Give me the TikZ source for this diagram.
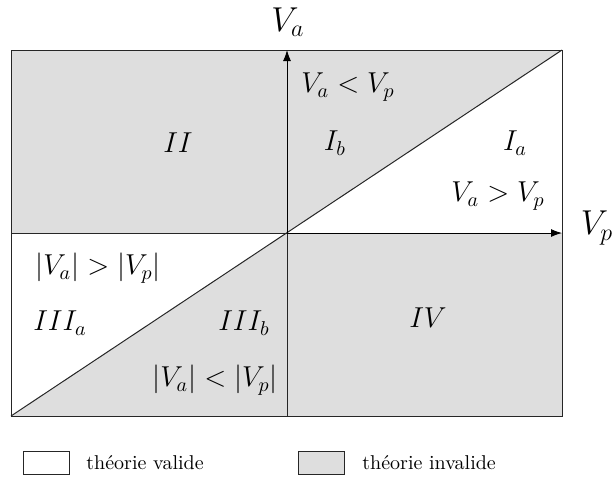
\documentclass[tikz,border=0pt]{standalone}
\usetikzlibrary{arrows.meta}
\definecolor{invfill}{RGB}{222,222,222}
\begin{document}
\begin{tikzpicture}[x=0.5pt,y=-0.5pt,
  frame/.style={draw=black!85,line width=0.5pt},
  axis/.style={draw=black,line width=0.45pt,-{Latex[length=5.5pt,width=4pt]}},
  lab/.style={font=\fontsize{13.8pt}{16pt}\selectfont,inner sep=0pt},
  axlab/.style={font=\LARGE,inner sep=0pt},
  leg/.style={font=\normalsize,inner sep=0pt,anchor=west},
  legbox/.style={draw=black!85,line width=0.5pt,minimum width=23pt,minimum height=11.5pt,inner sep=0pt}]
\useasboundingbox (0,0) rectangle (613,479);
\coordinate (NW) at (11,50);
\coordinate (NE) at (562,50);
\coordinate (SW) at (11,416);
\coordinate (SE) at (562,416);
\coordinate (O) at (287,233);
\coordinate (N) at (287,50);
\coordinate (S) at (287,416);
\coordinate (E) at (562,233);
\coordinate (W) at (11,233);
% invalid regions
\fill[invfill] (NW) rectangle (O);
\fill[invfill] (O) -- (N) -- (NE) -- cycle;
\fill[invfill] (SW) -- (O) -- (S) -- cycle;
\fill[invfill] (O) rectangle (SE);
% lines
\draw[frame] (NW) rectangle (SE);
\draw[frame] (W) -- (O);
\draw[frame] (O) -- (S);
\draw[frame] (SW) -- (NE);
\draw[axis] (O) -- (N);
\draw[axis] (O) -- (E);
% labels
\node[axlab] (va) at (288,22) {$V_a$};
\node[axlab] (vp) at (597,228) {$V_p$};
\node[lab] (ltp) at (348,87) {$V_a < V_p$};
\node[lab] (II) at (178,143) {$II$};
\node[lab] (Ib) at (335,143) {$I_b$};
\node[lab] (Ia) at (515,143) {$I_a$};
\node[lab] (gtp) at (498,196) {$V_a > V_p$};
\node[lab] (absgt) at (98,268) {$|V_a| > |V_p|$};
\node[lab] (IIIa) at (60,323) {$III_a$};
\node[lab] (IIIb) at (244,323) {$III_b$};
\node[lab] (IV) at (428,318) {$IV$};
\node[lab] (abslt) at (215,380) {$|V_a| < |V_p|$};
% legend
\node[legbox,fill=white] (bv) at (46,463) {};
\node[leg] (tv) at (86,463) {théorie valide};
\node[legbox,fill=invfill] (bi) at (321,463) {};
\node[leg] (ti) at (362,463) {théorie invalide};
\end{tikzpicture}
\end{document}
